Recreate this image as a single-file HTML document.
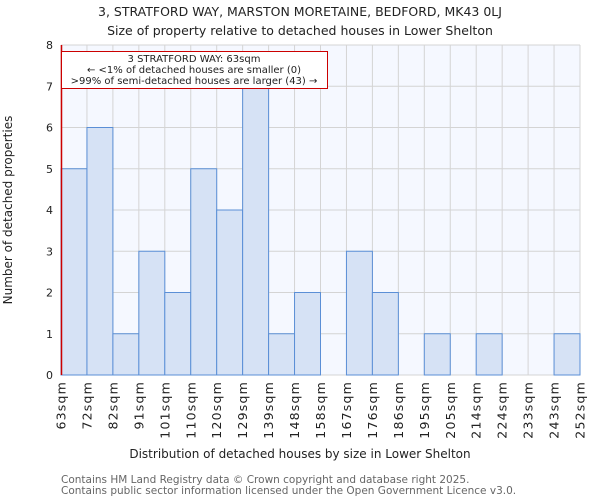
<!DOCTYPE html>
<html><head><meta charset="utf-8"><style>
body{margin:0;background:#fff;font-family:"DejaVu Sans","Liberation Sans",sans-serif;}
</style></head><body>
<svg width="600" height="500" xmlns="http://www.w3.org/2000/svg" font-family="DejaVu Sans, Liberation Sans, sans-serif">
<text x="300" y="16" text-anchor="middle" font-size="12.5" fill="#222">3, STRATFORD WAY, MARSTON MORETAINE, BEDFORD, MK43 0LJ</text>
<text x="300" y="35" text-anchor="middle" font-size="12.5" fill="#222">Size of property relative to detached houses in Lower Shelton</text>
<rect x="61" y="45" width="519" height="330" fill="#f5f8ff"/>
<g id="grid"></g>
<g id="bars"></g>
<g id="xt"></g>
<g id="yt"></g>
<line x1="61.5" y1="45" x2="61.5" y2="375" stroke="#cc0000" stroke-width="1.5"/>
<g>
<rect x="61.5" y="51.5" width="266" height="37" fill="#fff" stroke="#cc0000" stroke-width="1"/>
<text x="194" y="62" text-anchor="middle" font-size="10" fill="#222">3 STRATFORD WAY: 63sqm</text>
<text x="194" y="73" text-anchor="middle" font-size="10" fill="#222">← &lt;1% of detached houses are smaller (0)</text>
<text x="194" y="84" text-anchor="middle" font-size="10" fill="#222">&gt;99% of semi-detached houses are larger (43) →</text>
</g>
<text x="300" y="458" text-anchor="middle" font-size="12" fill="#222">Distribution of detached houses by size in Lower Shelton</text>
<text transform="translate(12,210) rotate(-90)" text-anchor="middle" font-size="12" fill="#222">Number of detached properties</text>
<text x="61" y="483" font-size="10.5" fill="#666">Contains HM Land Registry data © Crown copyright and database right 2025.</text>
<text x="61" y="494" font-size="10.5" fill="#666">Contains public sector information licensed under the Open Government Licence v3.0.</text>
</svg>
<script>
const categories=["63sqm","72sqm","82sqm","91sqm","101sqm","110sqm","120sqm","129sqm","139sqm","148sqm","158sqm","167sqm","176sqm","186sqm","195sqm","205sqm","214sqm","224sqm","233sqm","243sqm","252sqm"];
const counts=[5,6,1,3,2,5,4,7,1,2,0,3,2,0,1,0,1,0,0,1];
const yTicks=[0,1,2,3,4,5,6,7,8];
const NS="http://www.w3.org/2000/svg";
const L=61,R=580,T=45,B=375,YMAX=8;
const bw=(R-L)/counts.length;
const xs=i=>L+i*bw;
const ys=v=>B-(B-T)*v/YMAX;
function mk(t,a,p){const e=document.createElementNS(NS,t);for(const k in a)e.setAttribute(k,a[k]);document.getElementById(p).appendChild(e);return e;}
yTicks.forEach(v=>{
 const g=mk('line',{x1:L,x2:R,y1:ys(v),y2:ys(v),stroke:'#d4d4d4','stroke-width':1},'grid');
 
 
 const t=mk('text',{x:L-8,y:ys(v)+4,'text-anchor':'end','font-size':11,fill:'#222'},'yt');
 t.textContent=v;
 
 
});
categories.forEach((c,i)=>{
 const g=mk('line',{x1:xs(i),x2:xs(i),y1:T,y2:B,stroke:'#d4d4d4','stroke-width':1},'grid');
 
 
 const x=xs(i)+4.5;
 const t=mk('text',{transform:`translate(${x},${B+6}) rotate(-90)`,'text-anchor':'end','font-size':12.5,'letter-spacing':1.2,fill:'#222'},'xt');
 t.textContent=c;
 
 
});
counts.forEach((v,i)=>{
 const r=mk('rect',{x:xs(i),y:ys(v),width:bw,height:B-ys(v),fill:'#d6e2f5',stroke:'#5b8fd6','stroke-width':1},'bars');
 
 
});
</script>
</body></html>
